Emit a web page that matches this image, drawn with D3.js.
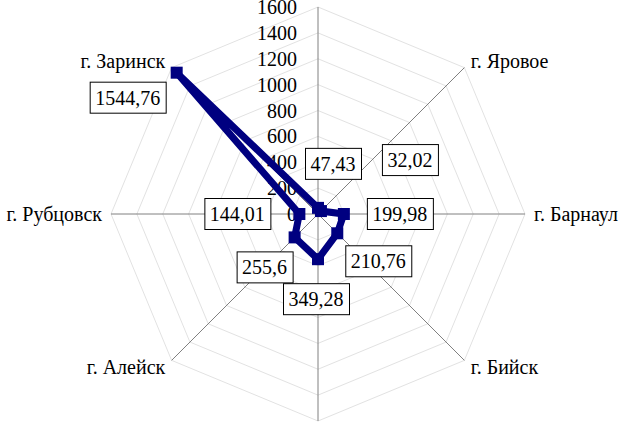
<!DOCTYPE html>
<html>
<head>
<meta charset="utf-8">
</head>
<body style="margin:0">
<script src="https://cdn.jsdelivr.net/npm/d3@7/dist/d3.min.js"></script>
<script>

    // categories clockwise from the top axis (top and bottom names are outside the picture)
    var categories = ["", "г. Яровое", "г. Барнаул", "г. Бийск", "", "г. Алейск", "г. Рубцовск", "г. Заринск"];
    var values = [47.43, 32.02, 199.98, 210.76, 349.28, 255.6, 144.01, 1544.76];
    var valueLabels = ["47,43", "32,02", "199,98", "210,76", "349,28", "255,6", "144,01", "1544,76"];
    var tickValues = [0, 200, 400, 600, 800, 1000, 1200, 1400, 1600];

    // where each data label box sits relative to its point
    var labelOffsets = [[15, -44], [89, -51], [56, 0], [41, 28], [-2, 40], [-30, 30], [-62, 0], [-49, 25]];

    var width = 626, height = 423;
    var cx = 318, cy = 214, R = 207;
    var navy = "#000080";

    var r = d3.scaleLinear().domain([0, 1600]).range([0, R]);
    var angle = d3.scaleLinear().domain([0, categories.length]).range([0, 2 * Math.PI]);

    function px(i, v) { return cx + r(v) * Math.sin(angle(i)); }
    function py(i, v) { return cy - r(v) * Math.cos(angle(i)); }

    var svg = d3.select("body").append("svg")
        .attr("width", width)
        .attr("height", height);

    // octagon grid
    svg.append("g").selectAll("polygon")
        .data(tickValues.slice(1))
        .enter().append("polygon")
        .attr("fill", "none")
        .attr("stroke", "#e2e2e2")
        .attr("points", function (t) {
            return categories.map(function (c, i) { return px(i, t) + "," + py(i, t); }).join(" ");
        });

    // spokes
    svg.append("g").selectAll("line")
        .data(categories)
        .enter().append("line")
        .attr("stroke", "#808080")
        .attr("x1", cx).attr("y1", cy)
        .attr("x2", function (c, i) { return px(i, 1600); })
        .attr("y2", function (c, i) { return py(i, 1600); });

    // value ticks along the top spoke
    svg.append("g").selectAll("text")
        .data(tickValues)
        .enter().append("text")
        .attr("x", cx - 21)
        .attr("y", function (t) { return cy - r(t) + 7; })
        .attr("text-anchor", "end")
        .attr("font-family", "Liberation Serif")
        .attr("font-size", 20)
        .text(function (t) { return t; });

    // category names
    svg.append("g").selectAll("text")
        .data(categories)
        .enter().append("text")
        .attr("x", function (c, i) { return cx + (R + 9) * Math.sin(angle(i)); })
        .attr("y", function (c, i) { return cy - (R + 9) * Math.cos(angle(i)) + 7; })
        .attr("text-anchor", function (c, i) {
            var s = Math.sin(angle(i));
            return s > 0.01 ? "start" : (s < -0.01 ? "end" : "middle");
        })
        .attr("font-family", "Liberation Serif")
        .attr("font-size", 20)
        .text(function (c) { return c; });

    // series
    var line = d3.lineRadial()
        .angle(function (v, i) { return angle(i); })
        .radius(function (v) { return r(v); })
        .curve(d3.curveLinearClosed);

    svg.append("path")
        .datum(values)
        .attr("fill", "none")
        .attr("stroke", navy)
        .attr("stroke-width", 7)
        .attr("transform", "translate(" + cx + "," + cy + ")")
        .attr("d", line);

    svg.append("g").selectAll("rect")
        .data(values)
        .enter().append("rect")
        .attr("fill", navy)
        .attr("x", function (v, i) { return px(i, v) - 6; })
        .attr("y", function (v, i) { return py(i, v) - 6; })
        .attr("width", 12)
        .attr("height", 12);

    // data labels
    var labels = svg.append("g").selectAll("g")
        .data(values)
        .enter().append("g")
        .attr("transform", function (v, i) {
            return "translate(" + (px(i, v) + labelOffsets[i][0]) + "," + (py(i, v) + labelOffsets[i][1]) + ")";
        });

    labels.append("rect")
        .attr("fill", "#fff")
        .attr("stroke", "#000");
    labels.append("text")
        .attr("y", 7)
        .attr("text-anchor", "middle")
        .attr("font-family", "Liberation Serif")
        .attr("font-size", 20)
        .text(function (v, i) { return valueLabels[i]; });

    labels.each(function () {
        var g = d3.select(this);
        var w = g.select("text").node().getComputedTextLength();
        g.select("rect")
            .attr("x", Math.round(-w / 2 - 5.5) + 0.5)
            .attr("y", -15.5)
            .attr("width", Math.round(w + 11))
            .attr("height", 31);
    });

</script>
</body>
</html>
